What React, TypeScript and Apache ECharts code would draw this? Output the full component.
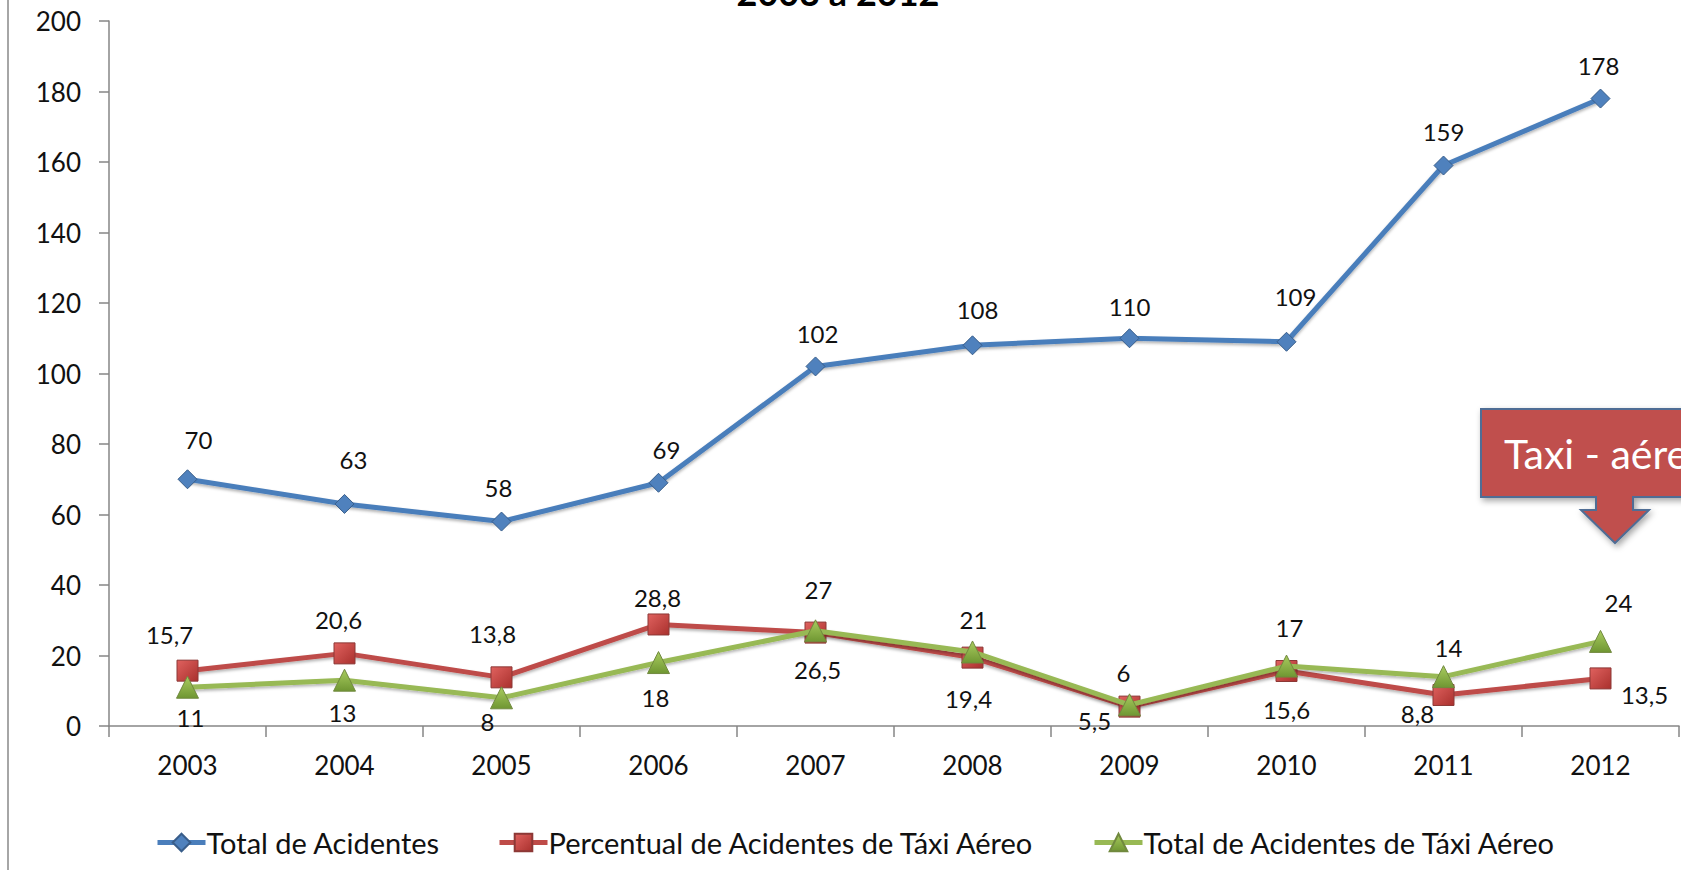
import React, { useEffect, useRef } from "react";
import * as echarts from "echarts";

const years = ["2003", "2004", "2005", "2006", "2007", "2008", "2009", "2010", "2011", "2012"];
const totalAcidentes = [70, 63, 58, 69, 102, 108, 110, 109, 159, 178];
const percentualTaxi = [15.7, 20.6, 13.8, 28.8, 26.5, 19.4, 5.5, 15.6, 8.8, 13.5];
const totalTaxi = [11, 13, 8, 18, 27, 21, 6, 17, 14, 24];
const yTicks = { min: 0, max: 200, interval: 20 };
const seriesNames = [
  "Total de Acidentes",
  "Percentual de Acidentes de Táxi Aéreo",
  "Total de Acidentes de Táxi Aéreo",
];
const titleText = "2003 a 2012";
const calloutText = "Taxi - aéreo";

// label placement (styling only)
const blueLabelOffsets = [[11, -40], [9, -44], [-3, -34], [8, -33], [2, -33], [5, -36], [0, -32], [9, -45], [0, -34], [-2, -33]];
const redLabelOffsets = [[-18, -36], [-6, -34], [-9, -44], [-1, -27], [2, 37], [-4, 41], [-35, 14], [0, 38], [-26, 19], [44, 16]];
const greenLabelOffsets = [[3, 30], [-2, 32], [-14, 24], [-3, 35], [3, -41], [1, -32], [-6, -32], [3, -39], [5, -29], [18, -39]];

const FONT = "Lato, 'Open Sans', sans-serif";

const fmt = (v: number) => String(v).replace(".", ",");

function withLabels(values: number[], offsets: number[][]) {
  return values.map((v, i) => ({
    value: v,
    label: { offset: offsets[i] },
  }));
}

export default function App() {
  const ref = useRef<HTMLDivElement>(null);
  useEffect(() => {
    if (!ref.current) return;
    const chart = echarts.init(ref.current, undefined, { renderer: "svg" });
    const labelBase = {
      show: true,
      position: "inside" as const,
      color: "#111",
      fontFamily: FONT,
      fontSize: 24,
      formatter: (p: any) => fmt(p.value),
    };
    const legendBase = {
      orient: "horizontal" as const,
      top: 823,
      itemWidth: 48,
      itemHeight: 22,
      itemGap: 0,
      lineStyle: { width: 5 },
      textStyle: { fontFamily: FONT, fontSize: 29, color: "#111", padding: [0, 0, 0, -4] },
      selectedMode: false,
    };
    const shadow = { shadowColor: "rgba(0,0,0,0.3)", shadowBlur: 3, shadowOffsetY: 2 };
    const calloutPts: number[][] = [
      [1481, 409], [1750, 409], [1750, 497], [1633, 497], [1633, 510], [1649, 510],
      [1615, 543], [1581, 510], [1596, 510], [1596, 497], [1481, 497],
    ];
    chart.setOption({
      animation: false,
      backgroundColor: "#ffffff",
      grid: { left: 109, right: 2, top: 21, bottom: 148, containLabel: false },
      legend: [
        { ...legendBase, left: 150, data: [seriesNames[0]] },
        { ...legendBase, left: 492, data: [seriesNames[1]] },
        { ...legendBase, left: 1087, data: [seriesNames[2]] },
      ],
      xAxis: {
        type: "category",
        data: years,
        boundaryGap: true,
        axisLine: { lineStyle: { color: "#868686", width: 1.5 } },
        axisTick: { show: true, length: 11, lineStyle: { color: "#868686", width: 1.5 } },
        axisLabel: { color: "#111", fontFamily: FONT, fontSize: 26, margin: 26 },
        splitLine: { show: false },
      },
      yAxis: {
        type: "value",
        min: yTicks.min,
        max: yTicks.max,
        interval: yTicks.interval,
        axisLine: { show: true, lineStyle: { color: "#868686", width: 1.5 } },
        axisTick: { show: true, length: 10, lineStyle: { color: "#868686", width: 1.5 } },
        axisLabel: { color: "#111", fontFamily: FONT, fontSize: 26, margin: 28 },
        splitLine: { show: false },
      },
      series: [
        {
          name: seriesNames[0],
          type: "line",
          data: withLabels(totalAcidentes, blueLabelOffsets),
          symbol: "diamond",
          symbolSize: 19,
          lineStyle: { color: "#4a7ebb", width: 5, ...shadow },
          itemStyle: { color: "#4f81bd", borderColor: "#385d8a", borderWidth: 1 },
          label: labelBase,
          z: 3,
        },
        {
          name: seriesNames[1],
          type: "line",
          data: withLabels(percentualTaxi, redLabelOffsets),
          symbol: "rect",
          symbolSize: 21,
          lineStyle: { color: "#be4b48", width: 5, ...shadow },
          itemStyle: {
            color: new echarts.graphic.LinearGradient(0, 0, 1, 1, [
              { offset: 0, color: "#e0625f" },
              { offset: 1, color: "#a9302d" },
            ]),
            borderColor: "#8c3836",
            borderWidth: 1,
          },
          label: labelBase,
          z: 4,
        },
        {
          name: seriesNames[2],
          type: "line",
          data: withLabels(totalTaxi, greenLabelOffsets),
          symbol: "triangle",
          symbolSize: 22,
          lineStyle: { color: "#98b954", width: 5, ...shadow },
          itemStyle: {
            color: new echarts.graphic.LinearGradient(0, 0, 0, 1, [
              { offset: 0, color: "#a9cc5f" },
              { offset: 1, color: "#6f9632" },
            ]),
            borderColor: "#71893f",
            borderWidth: 1,
          },
          label: labelBase,
          z: 5,
        },
      ],
      graphic: [
        {
          type: "line",
          shape: { x1: 8, y1: 0, x2: 8, y2: 870 },
          style: { stroke: "#a6a6a6", lineWidth: 2 },
          silent: true,
        },
        {
          type: "text",
          x: 838,
          y: -8,
          style: {
            text: titleText,
            fontFamily: FONT,
            fontWeight: "bold",
            fontSize: 36,
            fill: "#000",
            textAlign: "center",
            textVerticalAlign: "middle",
          },
          silent: true,
        },
        {
          type: "polygon",
          shape: { points: calloutPts },
          style: {
            fill: "#c0504d",
            stroke: "#4f6d95",
            lineWidth: 2,
            shadowColor: "rgba(0,0,0,0.35)",
            shadowBlur: 6,
            shadowOffsetX: 2,
            shadowOffsetY: 3,
          },
          z: 10,
          silent: true,
        },
        {
          type: "text",
          x: 1504,
          y: 453,
          style: {
            text: calloutText,
            fontFamily: FONT,
            fontSize: 41,
            fill: "#ffffff",
            textAlign: "left",
            textVerticalAlign: "middle",
          },
          z: 11,
          silent: true,
        },
      ],
    });
    return () => chart.dispose();
  }, []);
  return (
    <div
      ref={ref}
      style={{ position: "fixed", left: 0, top: 0, width: "1681px", height: "874px" }}
    />
  );
}
